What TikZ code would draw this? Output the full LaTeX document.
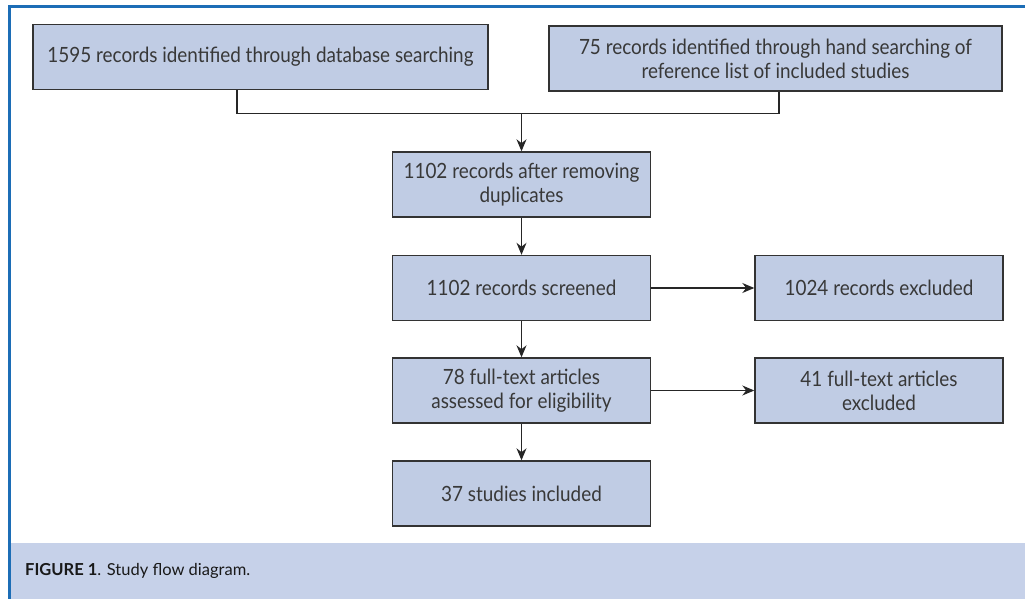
\documentclass[tikz,border=0pt]{standalone}
\usepackage{fontspec}
\setmainfont[FakeStretch=0.9]{Lato}
\newfontfamily\capfont{Lato}
\usetikzlibrary{arrows.meta}
\definecolor{boxfill}{HTML}{C0CCE4}
\definecolor{bandfill}{HTML}{C6D1E9}
\definecolor{frameblue}{HTML}{1C6DB6}
\definecolor{txt}{HTML}{383838}
\begin{document}
\begin{tikzpicture}[x=1pt,y=-1pt,
 box/.style={draw=black!80, line width=1.4pt, fill=boxfill, text=txt, align=center,
   font=\fontsize{21}{24}\selectfont, inner sep=0pt, minimum height=65pt},
 conn/.style={line width=1.2pt, draw=black!85},
 arr/.style={conn, -{Stealth[length=12pt,width=10pt]}}]
\useasboundingbox (0,0) rectangle (1025,599);
\fill[bandfill] (10,543) rectangle (1025,599);
\draw[frameblue, line width=3pt] (9.5,599) -- (9.5,6.5) -- (1025,6.5);

\node[box, minimum width=455pt] (b1) at (260.5,57) {1595 records identified through database searching};
\node[box, minimum width=453pt] (b2) at (775.5,58.5) {75 records identified through hand searching of\\reference list of included studies};
\node[box, minimum width=258pt] (b3) at (521.5,184.5) {1102 records after removing\\duplicates};
\node[box, minimum width=258pt] (b4) at (521.5,288) {1102 records screened};
\node[box, minimum width=248pt] (b5) at (879,288) {1024 records excluded};
\node[box, minimum width=258pt] (b6) at (521.5,390.5) {78 full-text articles\\assessed for eligibility};
\node[box, minimum width=248pt] (b7) at (879,390.5) {41 full-text articles\\excluded};
\node[box, minimum width=258pt] (b8) at (521.5,493.5) {37 studies included};

\coordinate (jl) at (237,113.3);
\coordinate (jr) at (779,113.3);
\coordinate (jm) at (521.5,113.3);
\draw[conn] (b1.south -| jl) -- (jl) -- (jr) -- (b2.south -| jr);
\draw[arr] (jm) -- (b3.north);
\draw[arr] (b3) -- (b4);
\draw[arr] (b4) -- (b6);
\draw[arr] (b6) -- (b8);
\draw[arr] (b4) -- (b5);
\draw[arr] (b6) -- (b7);

\node[anchor=west, inner sep=0pt, text=black!90, font=\capfont\fontsize{16.5}{20}\selectfont] (cap) at (25,571) {\textbf{FIGURE 1}. Study flow diagram.};
\end{tikzpicture}
\end{document}
